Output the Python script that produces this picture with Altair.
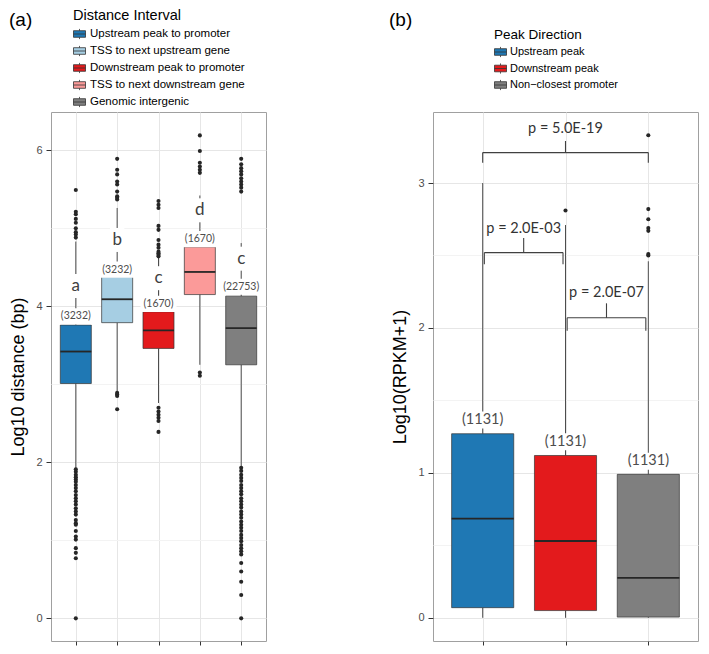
import altair as alt
import pandas as pd

# ---------------- panel (a) data ----------------
cats_a = ["Upstream peak to promoter", "TSS to next upstream gene",
          "Downstream peak to promoter", "TSS to next downstream gene",
          "Genomic intergenic"]
colors_a = ["#1f78b4", "#a6cee3", "#e31a1c", "#fb9a99", "#7f7f7f"]
q1_a = [3.01, 3.79, 3.46, 4.15, 3.25]
med_a = [3.42, 4.09, 3.69, 4.44, 3.72]
q3_a = [3.76, 4.38, 3.93, 4.76, 4.13]
wlo_a = [1.92, 2.91, 2.76, 3.25, 1.95]
whi_a = [4.83, 5.26, 4.62, 5.42, 4.81]
out_a = [
    [5.49, 5.21, 5.18, 5.12, 5.07, 5.00, 4.95, 4.92, 4.88,
     1.91, 1.88, 1.84, 1.81, 1.78, 1.75, 1.71, 1.67, 1.63, 1.58, 1.54, 1.50,
     1.46, 1.41, 1.37, 1.33, 1.26, 1.22, 1.20, 1.12, 1.05, 1.01, 0.90, 0.84,
     0.77, 0.00],
    [5.89, 5.75, 5.69, 5.60, 5.56, 5.47, 5.41, 5.39, 5.37,
     2.89, 2.87, 2.85, 2.68],
    [5.35, 5.30, 5.26, 5.03, 4.98, 4.85, 4.79, 4.75, 4.70, 4.68, 4.66, 4.64,
     2.70, 2.65, 2.61, 2.57, 2.53, 2.39],
    [6.19, 5.99, 5.84, 5.79, 5.75, 5.71, 3.15, 3.11],
    [5.89, 5.82, 5.77, 5.73, 5.69, 5.64, 5.60, 5.56, 5.52, 5.47,
     1.93, 1.89, 1.84, 1.80, 1.76, 1.71, 1.67, 1.63, 1.59, 1.54, 1.50, 1.46,
     1.42, 1.37, 1.33, 1.29, 1.24, 1.20, 1.16, 1.12, 1.07, 1.03, 0.99, 0.94,
     0.90, 0.86, 0.82, 0.71, 0.60, 0.47, 0.30, 0.00],
]
letters_a = ["a", "b", "c", "d", "c"]
letter_y_a = [4.26, 4.85, 4.36, 5.23, 4.61]
counts_a = ["(3232)", "(3232)", "(1670)", "(1670)", "(22753)"]
count_y_a = [3.87, 4.47, 4.03, 4.86, 4.25]

# ---------------- panel (b) data ----------------
cats_b = ["Upstream peak", "Downstream peak", "Non\u2212closest promoter"]
colors_b = ["#1f78b4", "#e31a1c", "#7f7f7f"]
q1_b = [0.07, 0.05, 0.005]
med_b = [0.685, 0.53, 0.276]
q3_b = [1.27, 1.12, 0.99]
wlo_b = [0.0, 0.0, 0.0]
whi_b = [3.0, 2.71, 2.46]
out_b = [
    [],
    [2.81],
    [3.33, 2.82, 2.75, 2.69, 2.67, 2.51, 2.50],
]
counts_b = ["(1131)", "(1131)", "(1131)"]
count_y_b = [1.365, 1.215, 1.08]

# significance brackets (x in category positions)
br_x1 = [1.02, 2.02, 1.0]
br_x2 = [1.97, 2.97, 3.0]
br_y = [2.52, 2.07, 3.21]
br_ylow = [2.44, 1.98, 3.14]
br_ytop = [2.62, 2.17, 3.29]
br_label_y = [2.68, 2.24, 3.37]
br_labels = ["p = 2.0E-03", "p = 2.0E-07", "p = 5.0E-19"]

# ---------------- styling constants ----------------
BOX_HALF = 0.375
GRID_MAJOR = "#e6e6e6"
GRID_MINOR = "#f3f3f3"
LINE = "#333333"
SYMBOL = "M-1,-0.55H1V0.55H-1Z M-1,0H1 M0,-0.55V-0.85 M0,0.55V0.85"
SANS = "Liberation Sans"
ANN = "Lato"


def frames(cats, q1, med, q3, wlo, whi, outs):
    pos = list(range(1, len(cats) + 1))
    box = pd.DataFrame({"cat": cats, "pos": pos, "q1": q1, "med": med,
                        "q3": q3, "wlo": wlo, "whi": whi})
    box["xlo"] = box["pos"] - BOX_HALF
    box["xhi"] = box["pos"] + BOX_HALF
    pts = pd.DataFrame([{"pos": p, "v": v} for p, vals in zip(pos, outs) for v in vals])
    return box, pts


def panel(box, pts, cats, colors, xdom, ydom, yvals, major, ytitle, legend):
    xs = alt.Scale(domain=xdom, nice=False, zero=False)
    ys = alt.Scale(domain=ydom, nice=False, zero=False)
    xax = alt.Axis(values=list(range(1, len(cats) + 1)), labels=False, title=None,
                   domain=False, grid=True, gridColor=GRID_MAJOR, ticks=True,
                   tickSize=4, tickColor=LINE)
    yax = alt.Axis(values=yvals, title=ytitle, domain=False, grid=True, format="~g",
                   gridColor={"condition": {"test": major, "value": GRID_MAJOR}, "value": GRID_MINOR},
                   tickOpacity={"condition": {"test": major, "value": 1}, "value": 0},
                   labelExpr=f"({major}) ? datum.label : ''",
                   tickSize=5, tickColor=LINE)

    def X(f):
        return alt.X(f, scale=xs, axis=xax, title=None)

    def Y(f):
        return alt.Y(f, scale=ys, axis=yax, title=ytitle)

    base = alt.Chart(box)
    w_lo = base.mark_rule(color="#4d4d4d", strokeWidth=1).encode(x=X("pos:Q"), y=Y("wlo:Q"), y2="q1:Q")
    w_hi = base.mark_rule(color="#4d4d4d", strokeWidth=1).encode(x=X("pos:Q"), y=Y("q3:Q"), y2="whi:Q")
    rect = base.mark_rect(stroke=LINE, strokeWidth=0.7).encode(
        x=X("xlo:Q"), x2="xhi:Q", y=Y("q1:Q"), y2="q3:Q",
        fill=alt.Fill("cat:N", scale=alt.Scale(domain=cats, range=colors), legend=legend))
    med = base.mark_rule(color="#262626", strokeWidth=1.8).encode(x=X("xlo:Q"), x2="xhi:Q", y=Y("med:Q"))
    layers = [w_lo, w_hi, rect, med]
    if len(pts):
        layers.append(alt.Chart(pts).mark_circle(size=17, color="#262626", opacity=1)
                      .encode(x=X("pos:Q"), y=Y("v:Q")))
    return layers, X, Y


def mask(df, X, Y, shape, size):
    return alt.Chart(df).mark_point(shape=shape, size=size, filled=True, fill="white",
                                    color="white", opacity=1, strokeWidth=0).encode(
        x=X("pos:Q"), y=Y("y:Q"))


def label(df, X, Y, size, color):
    return alt.Chart(df).mark_text(font=ANN, fontSize=size, color=color, baseline="middle",
                                   align="center").encode(x=X("pos:Q"), y=Y("y:Q"), text="t:N")


# ---------------- panel (a) ----------------
box_a, pts_a = frames(cats_a, q1_a, med_a, q3_a, wlo_a, whi_a, out_a)
legend_a = alt.Legend(title="Distance Interval", orient="none", legendX=22, legendY=-103,
                      padding=0, titleFont=SANS, titleFontSize=14.5, titleFontWeight="normal",
                      titleColor="black", titlePadding=4, labelFont=SANS, labelFontSize=11.5,
                      labelColor="black", labelOffset=4, labelLimit=300, symbolType=SYMBOL,
                      symbolSize=144, symbolStrokeColor=LINE, symbolStrokeWidth=0.8,
                      rowPadding=2, symbolOpacity=1)
layers_a, XA, YA = panel(box_a, pts_a, cats_a, colors_a, [0.4, 5.6], [-0.29, 6.49],
                         [0, 1, 2, 3, 4, 5, 6], "datum.value % 2 === 0",
                         "Log10 distance (bp)", legend_a)
let_a = pd.DataFrame({"pos": range(1, 6), "y": letter_y_a, "t": letters_a})
cnt_a = pd.DataFrame({"pos": range(1, 6), "y": count_y_a, "t": counts_a})
layers_a += [
    mask(let_a, XA, YA, "M-0.6,-1H0.6V1H-0.6Z", 576),
    mask(cnt_a, XA, YA, "M-1,-0.45H1V0.45H-1Z", 1296),
    label(let_a, XA, YA, 17, "#404040"),
    label(cnt_a, XA, YA, 10.5, "#4d4d4d"),
    alt.Chart(pd.DataFrame({"t": ["(a)"]})).mark_text(
        font=SANS, fontSize=19, align="left", baseline="middle", color="black").encode(
        x=alt.value(-42), y=alt.value(-92.5), text="t:N"),
]
chart_a = alt.layer(*layers_a).properties(width=215, height=529)

# ---------------- panel (b) ----------------
box_b, pts_b = frames(cats_b, q1_b, med_b, q3_b, wlo_b, whi_b, out_b)
legend_b = alt.Legend(title="Peak Direction", orient="none", legendX=61, legendY=-84,
                      padding=0, titleFont=SANS, titleFontSize=13.5, titleFontWeight="normal",
                      titleColor="black", titlePadding=4, labelFont=SANS, labelFontSize=11,
                      labelColor="black", labelOffset=3, labelLimit=300, symbolType=SYMBOL,
                      symbolSize=144, symbolStrokeColor=LINE, symbolStrokeWidth=0.8,
                      rowPadding=1.5, symbolOpacity=1)
layers_b, XB, YB = panel(box_b, pts_b, cats_b, colors_b, [0.4, 3.6], [-0.16, 3.49],
                         [0, 0.5, 1, 1.5, 2, 2.5, 3], "datum.value % 1 === 0",
                         "Log10(RPKM+1)", legend_b)
cnt_b = pd.DataFrame({"pos": range(1, 4), "y": count_y_b, "t": counts_b})

segs = []
for x1, x2, y, ylo, ytop in zip(br_x1, br_x2, br_y, br_ylow, br_ytop):
    mid = (x1 + x2) / 2
    segs += [
        {"x": x1, "x2": x2, "y": y, "y2": y},
        {"x": x1, "x2": x1, "y": ylo, "y2": y},
        {"x": x2, "x2": x2, "y": ylo, "y2": y},
        {"x": mid, "x2": mid, "y": y, "y2": ytop},
    ]
seg_df = pd.DataFrame(segs)
br_df = pd.DataFrame({"pos": [(a + b) / 2 for a, b in zip(br_x1, br_x2)],
                      "y": br_label_y, "t": br_labels})

layers_b += [
    mask(cnt_b, XB, YB, "M-1,-0.37H1V0.37H-1Z", 2116),
    label(cnt_b, XB, YB, 14.5, "#4d4d4d"),
    alt.Chart(seg_df).mark_rule(color="#404040", strokeWidth=1.1).encode(
        x=XB("x:Q"), x2="x2:Q", y=YB("y:Q"), y2="y2:Q"),
    label(br_df, XB, YB, 14.5, "#333333"),
    alt.Chart(pd.DataFrame({"t": ["(b)"]})).mark_text(
        font=SANS, fontSize=19, align="left", baseline="middle", color="black").encode(
        x=alt.value(-44), y=alt.value(-92), text="t:N"),
]
chart_b = alt.layer(*layers_b).properties(width=265, height=529)

chart = (
    alt.hconcat(chart_a, chart_b, spacing=167, bounds="flush")
    .resolve_scale(x="independent", y="independent", fill="independent")
    .resolve_legend(fill="independent")
    .properties(padding={"left": 0, "top": 0, "right": 0, "bottom": 0})
    .configure_view(stroke="#a0a0a0", strokeWidth=1)
    .configure_axis(labelFont=SANS, labelFontSize=11, labelColor="#4d4d4d",
                    titleFont=SANS, titleFontSize=18, titleColor="black",
                    titleFontWeight="normal", labelPadding=4, titlePadding=8)
)

chart.save("out.html", embed_options={"renderer": "svg", "actions": False})
